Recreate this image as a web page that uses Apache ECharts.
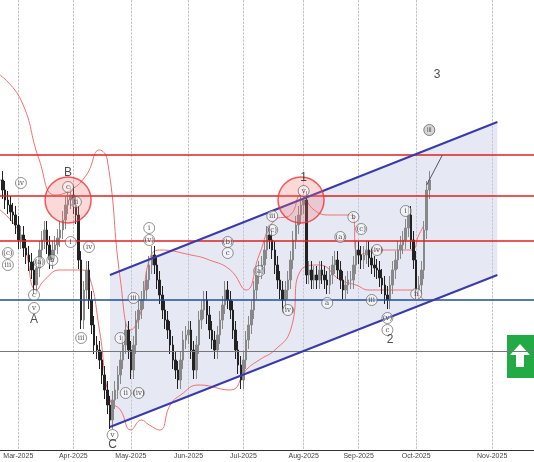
<!DOCTYPE html>
<html><head><meta charset="utf-8">
<script src="https://cdn.jsdelivr.net/npm/echarts@6/dist/echarts.min.js"></script>
<style>html,body{margin:0;padding:0;background:#fff}#c{width:534px;height:462px}</style>
</head><body><div id="c"></div>
<script>
const closes=[320,310,300,295,288,285,275,260,265,252,245,238,230,
215,232,250,260,270,255,240,250,255,262,
270,280,295,300,305,295,285,240,180,210,
230,200,175,155,150,140,125,110,95,80,
100,110,125,140,155,170,150,130,155,180,
190,200,210,220,235,245,235,220,205,190,
180,170,155,140,130,120,140,160,165,170,
150,130,155,180,190,200,185,170,160,150,
165,180,195,210,200,190,170,150,135,120,
140,160,175,190,210,225,230,235,250,265,
260,250,235,220,210,200,210,220,240,260,
275,285,295,300,225,230,220,225,220,230,
225,220,215,225,235,240,230,220,210,215,
220,220,235,250,245,240,245,250,242,235,
232,230,222,215,205,200,215,230,240,250,
255,260,272,285,260,240,210,215,230,270,310,320];
const upperBand=[[0,425],[8,400],[15,340],[21,305],[27,310],[33,325],[38,350],[41,340],[46,220],[50,170],[54,190],[57,240],[61,250],[73,245],[80,240],[88,230],[94,210],[99,245],[105,280],[111,285],[115,305],[120,290],[126,285],[134,285],[137,245],[145,250],[157,250],[160,265],[162,275]];
const lowerBand=[[0,290],[8,265],[14,210],[17,220],[23,230],[31,230],[34,225],[38,170],[42,100],[46,90],[50,70],[54,80],[57,75],[61,70],[65,95],[69,105],[76,115],[88,110],[94,130],[99,140],[105,150],[111,170],[115,230],[122,235],[130,220],[136,215],[141,210],[149,210],[157,210],[160,205],[162,200]];
const redLevels=[345,304,259];
const blueLevel=200, greyLevel=149;
const channel=[[42,225],[190,378],[190,225],[42,73]];
const circles=[[26,300],[115,300]];
const bigLabels=[['B',26,327],['A',13,180],['C',43,55],['1',116,322],['2',149,160],['3',167,425]];
const waveLabels=[['v',43,65],['c',26,313],['iv',8,317],['v',116,309],['i',57,272],['(v)',57,260],['iii',51,202],['(b)',87,258],['c',87,247],['(a)',99,229],['(c)',104,270],['iii',104,284],['(iv)',110,190],['(a)',130,263],['b',135,283],['(c)',138,271],['(iv)',144,250],['i',155,289],['ii',159,206],['(v)',148,182],['c',148,170],['a',125,197],['iii',142,200],['iii',3,235],['(c)',3,247],['i',27,258],['ii',29,298],['b',20,240],['(a)',15,238],['c',13,205],['v',13,192],['iii',31,162],['ii',48,107],['(iv)',53,107],['i',46,162],['iv',34,253]];

const cats=[];const d=new Date(Date.UTC(2025,1,20));
while(cats.length<205){const w=d.getUTCDay();const fut=cats.length>=closes.length;if(fut||(w>0&&w<6))cats.push(d.toISOString().slice(0,10));d.setUTCDate(d.getUTCDate()+1);}
const ohlc=closes.map((c,i)=>{const o=i?closes[i-1]:c;return [o,c,Math.min(o,c)-9,Math.max(o,c)+9];});
const mNames=['Jan','Feb','Mar','Apr','May','Jun','Jul','Aug','Sep','Oct','Nov','Dec'];
const isFirst=i=>i>0&&cats[i].slice(5,7)!==cats[i-1].slice(5,7);
const ml=[...redLevels.map(v=>({yAxis:v,lineStyle:{color:'#e02020',width:1.5,type:'solid'}})),
 {yAxis:blueLevel,lineStyle:{color:'#1f4e9a',width:1.5,type:'solid'}},
 {yAxis:greyLevel,lineStyle:{color:'#777',width:1,type:'solid'}}];
const chart=echarts.init(document.getElementById('c'));
chart.setOption({animation:false,
grid:{left:0,right:0,top:0,bottom:12},
xAxis:{type:'category',data:cats,boundaryGap:false,axisTick:{show:false},
 axisLine:{lineStyle:{color:'#333'}},
 axisLabel:{interval:(i)=>isFirst(i),formatter:(v)=>mNames[+v.slice(5,7)-1]+'-'+v.slice(0,4),fontSize:7,color:'#444',margin:3},
 splitLine:{show:true,interval:(i)=>isFirst(i),lineStyle:{color:'#999',type:'dashed',width:0.6}}},
yAxis:{type:'value',min:50,max:500,show:false,splitLine:{show:false}},
series:[
 {type:'custom',renderItem:(p,api)=>({type:'polygon',shape:{points:channel.map(q=>api.coord(q))},style:{fill:'rgba(200,205,230,0.45)'}}),data:[0],silent:true,z:1},
 {type:'line',data:[channel[0],channel[1]],symbol:'none',lineStyle:{color:'#3a3aaa',width:2},z:5},
 {type:'line',data:[channel[3],channel[2]],symbol:'none',lineStyle:{color:'#3a3aaa',width:2},z:5},
 {type:'line',data:upperBand,symbol:'none',smooth:true,lineStyle:{color:'#f07070',width:1},z:3},
 {type:'line',data:lowerBand,symbol:'none',smooth:true,lineStyle:{color:'#f07070',width:1},z:3},
 {type:'candlestick',data:ohlc,barWidth:2,itemStyle:{color:'#888',color0:'#222',borderColor:'#888',borderColor0:'#222'},markLine:{silent:true,symbol:'none',label:{show:false},data:ml},z:4},
 {type:'scatter',data:circles,symbolSize:46,itemStyle:{color:'rgba(240,120,120,0.35)',borderColor:'#e33',borderWidth:1.5},z:6},
 {type:'scatter',data:waveLabels.map(l=>({value:[l[1],l[2]],name:l[0]})),symbol:'circle',symbolSize:11,
  itemStyle:{color:'rgba(255,255,255,0.6)',borderColor:'#555',borderWidth:0.8},
  label:{show:true,formatter:p=>p.name,fontSize:7,color:'#222',fontFamily:'DejaVu Serif'},z:7},
 {type:'scatter',data:bigLabels.map(l=>({value:[l[1],l[2]],name:l[0]})),symbolSize:1,itemStyle:{color:'transparent'},
  label:{show:true,formatter:p=>p.name,fontSize:12,color:'#222'},z:7},
 {type:'scatter',data:[{value:[164,370],name:'iii'}],symbolSize:11,itemStyle:{color:'#ccc',borderColor:'#666'},label:{show:true,formatter:'iii',fontSize:7},z:7},
 {type:'line',data:[[163,315],[169,345]],symbol:['none','arrow'],symbolSize:7,lineStyle:{color:'#555',width:1},itemStyle:{color:'#222'},z:7}
]});
chart.setOption({graphic:[{type:'group',left:507,top:335,children:[
 {type:'rect',shape:{width:27,height:43},style:{fill:'#22aa44'}},
 {type:'polygon',shape:{points:[[13,9],[23,20],[17,20],[17,32],[9,32],[9,20],[3,20]]},style:{fill:'#fff'}}]}]});
</script></body></html>
